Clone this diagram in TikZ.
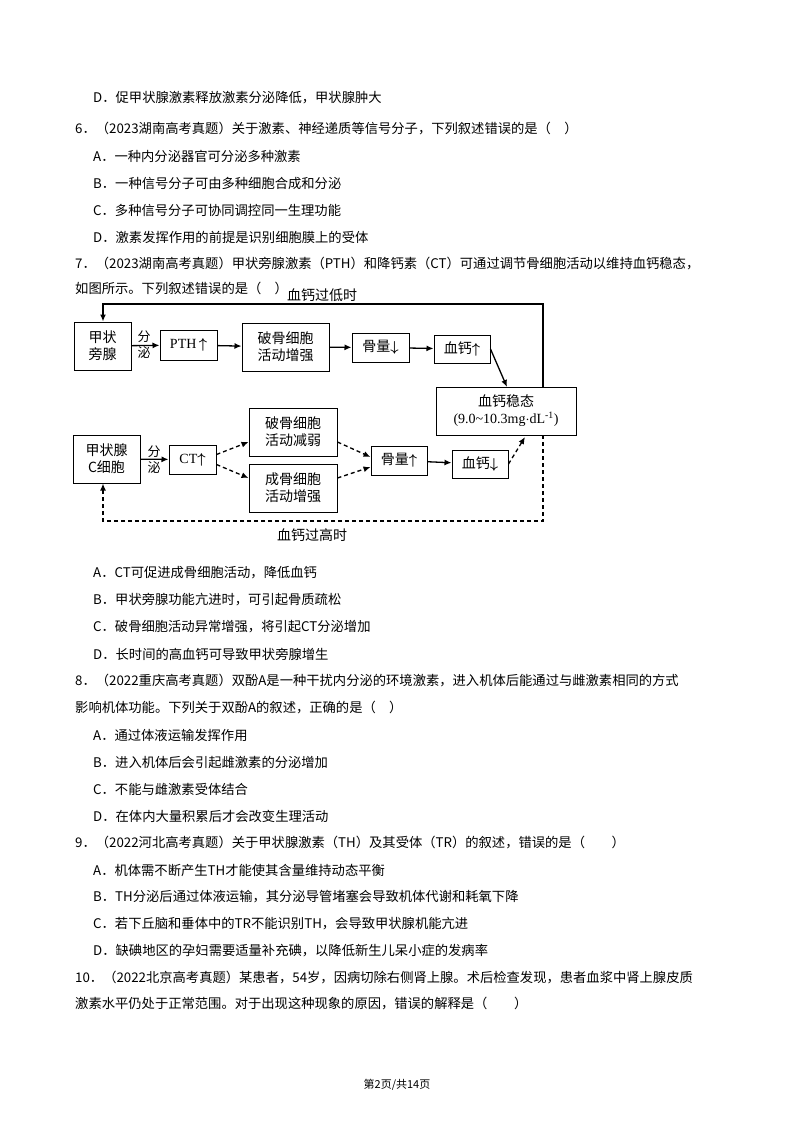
\documentclass[tikz,border=0pt]{standalone}
\usepackage{fontspec}
\setmainfont{Noto Sans CJK SC}
\newfontfamily\lat{Liberation Serif}
\usetikzlibrary{arrows.meta}
\newcommand{\UA}{{\boldmath$\uparrow$}}
\newcommand{\DA}{{\boldmath$\downarrow$}}
\begin{document}
\begin{tikzpicture}[x=1pt,y=-1pt,
 tl/.style={anchor=west,inner sep=0,font=\fontsize{13.3}{15}\selectfont},
 bx/.style={draw,line width=1pt,inner sep=0,align=center,font=\fontsize{14}{17}\selectfont},
 ar/.style={line width=1.3pt,-{Latex[length=7pt,width=6pt]}},
 da/.style={ar,dash pattern=on 4pt off 3pt}]
\useasboundingbox (0,0) rectangle (794,1122);
\node[tl] (t1) at (93,98) {D．促甲状腺激素释放激素分泌降低，甲状腺肿大};
\node[tl] (t2) at (75,129) {6．（2023湖南高考真题）关于激素、神经递质等信号分子，下列叙述错误的是（\quad ）};
\node[tl] (t3) at (93,156) {A．一种内分泌器官可分泌多种激素};
\node[tl] (t4) at (93,183) {B．一种信号分子可由多种细胞合成和分泌};
\node[tl] (t5) at (93,210) {C．多种信号分子可协同调控同一生理功能};
\node[tl] (t6) at (93,237) {D．激素发挥作用的前提是识别细胞膜上的受体};
\node[tl] (t7) at (75,264) {7．（2023湖南高考真题）甲状旁腺激素（PTH）和降钙素（CT）可通过调节骨细胞活动以维持血钙稳态，};
\node[tl] (t8) at (75,288) {如图所示。下列叙述错误的是（\quad ）};
% diagram
\node[bx,minimum width=57,minimum height=48] (pg) at (102.5,346) {甲状\\旁腺};
\node[bx,minimum width=57,minimum height=30] (pth) at (188.5,345) {{\lat PTH}\,\UA};
\node[bx,minimum width=87,minimum height=48] (pg1) at (285.5,347) {破骨细胞\\活动增强};
\node[bx,minimum width=57,minimum height=29] (gl1) at (380.5,347.5) {骨量\DA};
\node[bx,minimum width=56,minimum height=28] (xg1) at (462,349) {血钙\UA};
\node[bx,minimum width=140,minimum height=48] (wt) at (506,411) {血钙稳态\\{\lat (9.0\textasciitilde10.3mg$\cdot$dL\textsuperscript{-1})}};
\node[bx,minimum width=67,minimum height=48] (cc) at (106.5,459) {甲状腺\\C细胞};
\node[bx,minimum width=47,minimum height=29] (ct) at (192.5,459.5) {{\lat CT}\UA};
\node[bx,minimum width=88,minimum height=48] (pg2) at (293,432) {破骨细胞\\活动减弱};
\node[bx,minimum width=88,minimum height=48] (cg) at (293,488) {成骨细胞\\活动增强};
\node[bx,minimum width=56,minimum height=29] (gl2) at (399,460.5) {骨量\UA};
\node[bx,minimum width=56,minimum height=28] (xg2) at (480,464) {血钙\DA};
\node[align=center,inner sep=0,font=\fontsize{13}{16}\selectfont] (fm1) at (144,345) {分\\泌};
\node[align=center,inner sep=0,font=\fontsize{13}{16}\selectfont] (fm2) at (154,460) {分\\泌};
\draw[ar] (pg) -- (pth);
\draw[ar] (pth) -- (pg1);
\draw[ar] (pg1) -- (gl1);
\draw[ar] (gl1) -- (xg1);
\draw[ar] (xg1.east) -- (507,387);
\draw[ar] (cc) -- (ct);
\draw[da] (ct.east) ++(0,-5) -- (pg2.west|-0,442);
\draw[da] (ct.east) ++(0,5) -- (cg.west|-0,478);
\draw[da] (pg2.east|-0,442) -- (gl2.west|-0,457);
\draw[da] (cg.east|-0,478) -- (gl2.west|-0,467);
\draw[ar] (gl2) -- (xg2);
\draw[da] (xg2.east) -- (525,437);
\coordinate (c1) at (543,304);
\coordinate (c2) at (103,304);
\coordinate (c3) at (543,521);
\coordinate (c4) at (103,521);
\draw[ar] (543,387) -- (c1) -- (c2) -- (pg.north-|c2);
\draw[da] (543,435) -- (c3) -- (c4) -- (cc.south-|c4);
\node[font=\fontsize{14}{16}\selectfont,inner sep=0] (lo) at (322,295) {血钙过低时};
\node[font=\fontsize{14}{16}\selectfont,inner sep=0] (hi) at (312,535) {血钙过高时};
% text after
\node[tl] (u1) at (93,573) {A．CT可促进成骨细胞活动，降低血钙};
\node[tl] (u2) at (93,600) {B．甲状旁腺功能亢进时，可引起骨质疏松};
\node[tl] (u3) at (93,627) {C．破骨细胞活动异常增强，将引起CT分泌增加};
\node[tl] (u4) at (93,654) {D．长时间的高血钙可导致甲状旁腺增生};
\node[tl] (u5) at (75,681) {8．（2022重庆高考真题）双酚A是一种干扰内分泌的环境激素，进入机体后能通过与雌激素相同的方式};
\node[tl] (u6) at (75,708) {影响机体功能。下列关于双酚A的叙述，正确的是（\quad ）};
\node[tl] (u7) at (93,735) {A．通过体液运输发挥作用};
\node[tl] (u8) at (93,762) {B．进入机体后会引起雌激素的分泌增加};
\node[tl] (u9) at (93,789) {C．不能与雌激素受体结合};
\node[tl] (u10) at (93,816) {D．在体内大量积累后才会改变生理活动};
\node[tl] (u11) at (75,843) {9．（2022河北高考真题）关于甲状腺激素（TH）及其受体（TR）的叙述，错误的是（\qquad ）};
\node[tl] (u12) at (93,870) {A．机体需不断产生TH才能使其含量维持动态平衡};
\node[tl] (u13) at (93,897) {B．TH分泌后通过体液运输，其分泌导管堵塞会导致机体代谢和耗氧下降};
\node[tl] (u14) at (93,924) {C．若下丘脑和垂体中的TR不能识别TH，会导致甲状腺机能亢进};
\node[tl] (u15) at (93,951) {D．缺碘地区的孕妇需要适量补充碘，以降低新生儿呆小症的发病率};
\node[tl] (u16) at (75,978) {10．（2022北京高考真题）某患者，54岁，因病切除右侧肾上腺。术后检查发现，患者血浆中肾上腺皮质};
\node[tl] (u17) at (75,1004) {激素水平仍处于正常范围。对于出现这种现象的原因，错误的解释是（\qquad ）};
\node[font=\fontsize{11}{13}\selectfont] (ft) at (397,1085) {第2页/共14页};
\end{tikzpicture}
\end{document}
